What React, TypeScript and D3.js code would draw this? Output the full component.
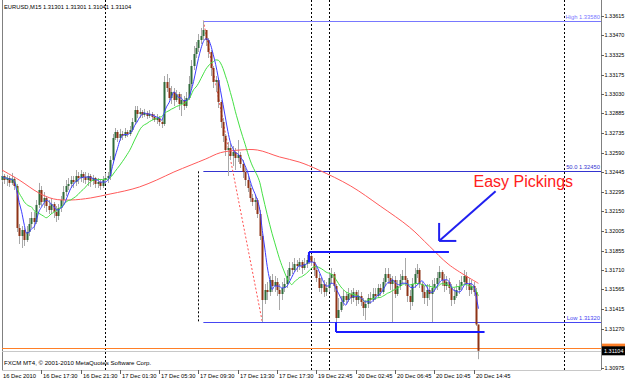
import React from 'react';
import * as d3 from 'd3';

// ---------- data ----------
const headerText = 'EURUSD,M15  1.31301 1.31301 1.31041 1.31104';
const copyrightText = 'FXCM MT4, © 2001-2010 MetaQuotes Software Corp.';

const firstOpen = 1.32385;
const closes = [
  1.32415, 1.32385, 1.324, 1.32363, 1.32393, 1.3234, 1.32025, 1.31965, 1.3201, 1.31935,
  1.31995, 1.32055, 1.321, 1.3207, 1.32198, 1.3231, 1.3222, 1.3225, 1.3219, 1.3216,
  1.32205, 1.32145, 1.32115, 1.32175, 1.32235, 1.32295, 1.3234, 1.32355, 1.32385, 1.3237,
  1.32415, 1.324, 1.3243, 1.32408, 1.32385, 1.32415, 1.32378, 1.324, 1.32355, 1.3237,
  1.3234, 1.32385, 1.324, 1.32415, 1.32535, 1.327, 1.32745, 1.327, 1.3273, 1.32715,
  1.32745, 1.3273, 1.3276, 1.3282, 1.3291, 1.3288, 1.32895, 1.32873, 1.32888, 1.32865,
  1.3288, 1.32858, 1.32835, 1.3285, 1.3282, 1.32805, 1.3312, 1.33075, 1.33, 1.33045,
  1.32985, 1.3303, 1.32955, 1.32985, 1.3294, 1.33, 1.33105, 1.3324, 1.3333, 1.33375,
  1.33435, 1.33465, 1.3351, 1.33435, 1.33345, 1.33225, 1.3312, 1.33135, 1.3297, 1.3282,
  1.32715, 1.3261, 1.32625, 1.32565, 1.32595, 1.3255, 1.32573, 1.32505, 1.32445, 1.32385,
  1.32325, 1.3225, 1.3222, 1.32235, 1.3213, 1.31965, 1.31485, 1.3156, 1.31545, 1.31635,
  1.3159, 1.3162, 1.3156, 1.3153, 1.31575, 1.31605, 1.31665, 1.31725, 1.3171, 1.31755,
  1.3174, 1.3177, 1.31725, 1.31755, 1.31785, 1.31815, 1.3177, 1.3171, 1.3165, 1.31575,
  1.31605, 1.31545, 1.31575, 1.3165, 1.3168, 1.3159, 1.3135, 1.3141, 1.3147, 1.31515,
  1.31485, 1.3153, 1.315, 1.31545, 1.31485, 1.31515, 1.3147, 1.31425, 1.31455, 1.315,
  1.31485, 1.3153, 1.31515, 1.31575, 1.31545, 1.3162, 1.3168, 1.3165, 1.31605, 1.31635,
  1.3153, 1.3159, 1.31635, 1.31665, 1.31635, 1.31515, 1.3147, 1.31605, 1.3168, 1.3171,
  1.31605, 1.31545, 1.315, 1.3156, 1.3153, 1.31575, 1.31605, 1.3165, 1.31695, 1.31635,
  1.3159, 1.3162, 1.31575, 1.31485, 1.31515, 1.3156, 1.3159, 1.3162, 1.31665, 1.31605,
  1.3156, 1.3159, 1.31545, 1.31301, 1.31104,
];
const highs = [
  1.32445, 1.3243, 1.32423, 1.32415, 1.32438, 1.32408, 1.32355, 1.32055, 1.3204, 1.32025,
  1.3204, 1.321, 1.32145, 1.32145, 1.32235, 1.32363, 1.3234, 1.32295, 1.32265, 1.32235,
  1.3225, 1.3222, 1.3219, 1.32205, 1.32265, 1.3234, 1.32385, 1.324, 1.32415, 1.32415,
  1.3246, 1.32445, 1.3246, 1.32445, 1.32445, 1.32438, 1.3243, 1.32423, 1.32408, 1.324,
  1.32393, 1.32415, 1.32438, 1.32445, 1.32565, 1.3273, 1.32775, 1.3276, 1.32768, 1.32753,
  1.32775, 1.3276, 1.3279, 1.3285, 1.3294, 1.3294, 1.32925, 1.3291, 1.32918, 1.32903,
  1.3291, 1.32895, 1.3288, 1.3288, 1.32865, 1.3285, 1.33165, 1.3318, 1.3315, 1.3309,
  1.33075, 1.3306, 1.33045, 1.3303, 1.33015, 1.33045, 1.33165, 1.33285, 1.3339, 1.3342,
  1.3348, 1.33525, 1.3358, 1.3351, 1.3345, 1.3336, 1.3324, 1.33165, 1.3315, 1.32985,
  1.3285, 1.3273, 1.3267, 1.32655, 1.3264, 1.32625, 1.32685, 1.32595, 1.32535, 1.32475,
  1.32415, 1.32355, 1.3228, 1.32273, 1.3225, 1.3216, 1.3198, 1.31605, 1.3162, 1.31665,
  1.3168, 1.31665, 1.3165, 1.31605, 1.3162, 1.3165, 1.3171, 1.3177, 1.3177, 1.318,
  1.31785, 1.318, 1.31785, 1.318, 1.31823, 1.31845, 1.3183, 1.318, 1.3174, 1.3168,
  1.3165, 1.31635, 1.3162, 1.31695, 1.31725, 1.31695, 1.31605, 1.315, 1.31515, 1.3156,
  1.31545, 1.31575, 1.3156, 1.31575, 1.3156, 1.3156, 1.31545, 1.315, 1.31485, 1.3153,
  1.31545, 1.31575, 1.31575, 1.31605, 1.31605, 1.3165, 1.31725, 1.31725, 1.3168, 1.31665,
  1.31665, 1.31635, 1.3168, 1.3171, 1.318, 1.3165, 1.3156, 1.3165, 1.31725, 1.31755,
  1.31725, 1.3162, 1.3159, 1.31605, 1.31605, 1.31635, 1.3165, 1.31695, 1.3174, 1.3171,
  1.3168, 1.31665, 1.3165, 1.31605, 1.31575, 1.31605, 1.31635, 1.31665, 1.3171, 1.31695,
  1.3165, 1.31635, 1.3162, 1.31575, 1.31301,
];
const lows = [
  1.3237, 1.32355, 1.3234, 1.32333, 1.32348, 1.3231, 1.31995, 1.31905, 1.31875, 1.3189,
  1.3192, 1.31965, 1.32025, 1.3201, 1.32055, 1.32175, 1.3219, 1.32175, 1.32145, 1.3213,
  1.3213, 1.321, 1.3207, 1.32085, 1.32145, 1.32205, 1.32265, 1.3231, 1.32325, 1.32325,
  1.3234, 1.32355, 1.3237, 1.32363, 1.32355, 1.3234, 1.32333, 1.32348, 1.32325, 1.32325,
  1.3231, 1.32325, 1.32355, 1.32363, 1.32385, 1.3252, 1.32685, 1.3267, 1.32678, 1.32685,
  1.327, 1.32708, 1.32715, 1.32745, 1.32805, 1.3285, 1.3285, 1.3285, 1.32858, 1.32843,
  1.3285, 1.32835, 1.3282, 1.32805, 1.3279, 1.32775, 1.3279, 1.33045, 1.32985, 1.32955,
  1.3294, 1.3297, 1.3291, 1.32865, 1.3291, 1.32925, 1.32985, 1.33075, 1.3321, 1.333,
  1.33345, 1.33405, 1.33435, 1.3339, 1.333, 1.33165, 1.33075, 1.33045, 1.32925, 1.32775,
  1.3267, 1.32565, 1.32415, 1.32535, 1.3249, 1.3246, 1.3252, 1.32475, 1.324, 1.3234,
  1.32295, 1.3222, 1.3219, 1.3216, 1.321, 1.31935, 1.3132, 1.31455, 1.31485, 1.31515,
  1.31545, 1.31545, 1.31515, 1.3141, 1.31485, 1.31545, 1.31575, 1.31635, 1.3168, 1.31695,
  1.31695, 1.3171, 1.3168, 1.3171, 1.31725, 1.31755, 1.3174, 1.31665, 1.3162, 1.31545,
  1.3153, 1.31508, 1.31515, 1.31545, 1.31605, 1.31545, 1.3126, 1.3135, 1.31395, 1.3144,
  1.31455, 1.3147, 1.31455, 1.3147, 1.3144, 1.31455, 1.3144, 1.31365, 1.31335, 1.31425,
  1.31455, 1.3147, 1.31485, 1.315, 1.31515, 1.3153, 1.3159, 1.31605, 1.3156, 1.3132,
  1.315, 1.31515, 1.3156, 1.31605, 1.3159, 1.3147, 1.3141, 1.3144, 1.31575, 1.3165,
  1.31575, 1.315, 1.31455, 1.3144, 1.31485, 1.3132, 1.31545, 1.3156, 1.3162, 1.3159,
  1.31545, 1.3156, 1.3153, 1.3144, 1.31455, 1.315, 1.3153, 1.3156, 1.31605, 1.3156,
  1.31515, 1.3153, 1.31515, 1.3129, 1.31041,
];

// slow moving average (red), sampled read-offs: [bar, price]
const slowMaPoints: [number, number][] = [
  [0, 1.3246], [7, 1.32385], [15, 1.32288], [21, 1.32243], [28, 1.32235], [36, 1.3225],
  [44, 1.3228], [50, 1.32303], [56, 1.32333], [63, 1.32385], [70, 1.32445], [77, 1.32498],
  [83, 1.32543], [89, 1.3259], [97, 1.3261], [104, 1.3261], [113, 1.32558], [121, 1.3252],
  [129, 1.3246], [142, 1.3234], [154, 1.3219], [166, 1.3203], [174, 1.3189], [182, 1.3175],
  [194, 1.3161],
];

const priceTicks = [
  1.33615, 1.3347, 1.33325, 1.33175, 1.3303, 1.32885, 1.32735, 1.3259, 1.32445, 1.32295,
  1.3215, 1.32005, 1.31855, 1.3171, 1.31565, 1.31415, 1.3127, 1.30975,
];
const timeTickBars = [0, 16, 32, 48, 64, 80, 96, 112, 128, 144, 160, 176, 192];
const timeTickLabels = [
  '16 Dec 2010', '16 Dec 17:30', '16 Dec 21:30', '17 Dec 01:30', '17 Dec 05:30', '17 Dec 09:30',
  '17 Dec 13:30', '17 Dec 17:30', '19 Dec 22:45', '20 Dec 02:45', '20 Dec 06:45', '20 Dec 10:45',
  '20 Dec 14:45',
];
const separatorBars = [42, 126, 133, 229];

const fibStartBar = 82;
const fibEndBar = 106;
const fibLevels = [
  { label: 'High 1.33580', price: 1.3358, color: '#7878ff' },
  { label: '50.0 1.32450', price: 1.3245, color: '#3434d0' },
  { label: 'Low 1.31320', price: 1.3132, color: '#4646f2' },
];

const askPrice = 1.31124;
const bidPrice = 1.31104;

// ---------- helpers ----------
function sma(values: number[], period: number) {
  return values.map((_, i) => {
    const from = Math.max(0, i - period + 1);
    return d3.mean(values.slice(from, i + 1)) as number;
  });
}

const FONT = '"Liberation Sans", Arial, sans-serif';

export default function App() {
  const left = 2;
  const right = 601;
  const bottom = 370;
  const x = d3.scaleLinear().domain([0, 192]).range([2, 473.5]);
  const y = d3.scaleLinear().domain([1.30975, 1.33615]).range([368, 16]);

  const opens = closes.map((_, i) => (i === 0 ? firstOpen : closes[i - 1]));
  const fast = sma(closes, 5);
  const mid = sma(closes, 13);

  const lineGen = d3
    .line<number>()
    .x((_, i) => x(i))
    .y((d) => y(d))
    .curve(d3.curveMonotoneX);
  const slowGen = d3
    .line<[number, number]>()
    .x((d) => x(d[0]))
    .y((d) => y(d[1]))
    .curve(d3.curveCatmullRom.alpha(0.5));

  const bodyW = 2;
  const axisFont = 5.5;

  return (
    <svg
      width={625}
      height={380}
      style={{ position: 'absolute', left: 0, top: 0, display: 'block', background: '#fff' }}
      fontFamily={FONT}
    >
      <defs>
        <clipPath id="askClip">
          <rect x={right + 1} y={y(askPrice) - 4.5} width={24} height={y(bidPrice) - 4.5 - (y(askPrice) - 4.5)} />
        </clipPath>
      </defs>
      <rect x={0} y={0} width={625} height={380} fill="#ffffff" />

      {/* frame */}
      <line x1={left + 0.5} x2={left + 0.5} y1={0} y2={bottom} stroke="#808080" />
      <line x1={right + 0.5} x2={right + 0.5} y1={0} y2={bottom} stroke="#808080" />
      <line x1={left} x2={right} y1={bottom + 0.5} y2={bottom + 0.5} stroke="#c8c8c8" />

      {/* period separators */}
      {separatorBars.map((b) => (
        <line
          key={'sep' + b}
          x1={Math.round(x(b)) + 0.5}
          x2={Math.round(x(b)) + 0.5}
          y1={0}
          y2={bottom}
          stroke="#000"
          strokeDasharray="2,2"
          strokeWidth={1}
        />
      ))}
      <line
        x1={Math.round(x(80)) + 0.5}
        x2={Math.round(x(80)) + 0.5}
        y1={y(1.3245)}
        y2={y(1.3132)}
        stroke="#000"
        strokeDasharray="2,2"
      />

      {/* ask / bid lines */}
      <line x1={left} x2={right} y1={Math.round(y(askPrice)) + 0.5} y2={Math.round(y(askPrice)) + 0.5} stroke="#ff7f27" />
      <line x1={left} x2={right} y1={Math.round(y(bidPrice)) + 0.5} y2={Math.round(y(bidPrice)) + 0.5} stroke="#c8c8c8" />

      {/* fibonacci levels */}
      {fibLevels.map((f) => (
        <g key={f.label}>
          <line
            x1={x(fibStartBar)}
            x2={right}
            y1={Math.round(y(f.price)) + 0.5}
            y2={Math.round(y(f.price)) + 0.5}
            stroke={f.color}
          />
          <text x={right - 1} y={y(f.price) - 2} fontSize={5.8} fill={f.color} textAnchor="end">
            {f.label}
          </text>
        </g>
      ))}
      <line
        x1={x(fibStartBar)}
        y1={y(fibLevels[0].price)}
        x2={x(fibEndBar)}
        y2={y(fibLevels[2].price)}
        stroke="#ff5050"
        strokeDasharray="2,2"
      />

      {/* candles */}
      {closes.map((c, i) => {
        const o = opens[i];
        const h = Math.max(highs[i], o, c);
        const l = Math.min(lows[i], o, c);
        const cx = Math.round(x(i));
        const up = c >= o;
        const top = y(Math.max(o, c));
        const bot = y(Math.min(o, c));
        return (
          <g key={'c' + i}>
            <line x1={cx + 0.5} x2={cx + 0.5} y1={y(h)} y2={y(l)} stroke="#a8a8a8" strokeWidth={1} />
            <rect
              x={cx - bodyW / 2 + 0.5}
              y={top}
              width={bodyW}
              height={Math.max(1, bot - top)}
              fill={up ? '#2f6b3b' : '#8e3316'}
            />
          </g>
        );
      })}

      {/* moving averages */}
      <path d={slowGen(slowMaPoints) || ''} fill="none" stroke="#ff5a5a" strokeWidth={1} />
      <path d={lineGen(mid) || ''} fill="none" stroke="#44e044" strokeWidth={1} />
      <path d={lineGen(fast) || ''} fill="none" stroke="#3c3cff" strokeWidth={1} />

      {/* hand-drawn channel lines */}
      <g stroke="#1a1aff" strokeWidth={2} fill="none">
        <line x1={x(125)} x2={x(182)} y1={y(1.31845)} y2={y(1.31845)} />
        <line x1={x(125)} x2={x(125)} y1={y(1.31845)} y2={y(1.3177)} />
        <line x1={x(136)} x2={x(196.5)} y1={y(1.31245)} y2={y(1.31245)} />
        <line x1={x(136)} x2={x(136)} y1={y(1.3132)} y2={y(1.31245)} />
      </g>

      {/* arrow */}
      <g stroke="#2020f0" strokeWidth={2} fill="none">
        <line x1={x(201)} y1={y(1.323)} x2={x(178)} y2={y(1.31928)} />
        <line x1={x(178)} y1={y(1.32063)} x2={x(178)} y2={y(1.31928)} />
        <line x1={x(178)} y1={y(1.31928)} x2={x(185)} y2={y(1.31928)} />
      </g>
      <text x={x(192)} y={y(1.3233)} fontSize={16} fill="#ff2020" fontFamily={FONT}>
        Easy Pickings
      </text>

      {/* price axis */}
      {priceTicks.map((p) => (
        <g key={'p' + p}>
          <line x1={right} x2={right + 3} y1={Math.round(y(p)) + 0.5} y2={Math.round(y(p)) + 0.5} stroke="#606060" />
          <text x={right + 3.5} y={y(p) + 2} fontSize={axisFont} fill="#000">
            {p.toFixed(5)}
          </text>
        </g>
      ))}
      <rect x={right + 1} y={y(askPrice) - 4.5} width={24} height={9} fill="#ff7f27" />
      <g clipPath="url(#askClip)">
        <text x={right + 3} y={y(askPrice) + 2} fontSize={axisFont} fill="#fff">
          {askPrice.toFixed(5)}
        </text>
      </g>
      <rect x={right + 1} y={y(bidPrice) - 4.5} width={24} height={9} fill="#000" />
      <text x={right + 3} y={y(bidPrice) + 2} fontSize={axisFont} fill="#fff">
        {bidPrice.toFixed(5)}
      </text>

      {/* time axis */}
      {timeTickBars.map((b, i) => {
        const tx = Math.round(x(b)) + 0.5;
        return (
          <g key={'t' + b}>
            {i > 0 && <line x1={tx} x2={tx} y1={bottom} y2={bottom + 4} stroke="#606060" />}
            <text x={i === 0 ? 3 : tx + 1.5} y={bottom + 7.5} fontSize={5.8} fill="#000">
              {timeTickLabels[i]}
            </text>
          </g>
        );
      })}

      {/* header & footer */}
      <text x={4} y={8.5} fontSize={5.8} fill="#000">
        {headerText}
      </text>
      <text x={4} y={365} fontSize={6.1} fill="#000">
        {copyrightText}
      </text>
    </svg>
  );
}
